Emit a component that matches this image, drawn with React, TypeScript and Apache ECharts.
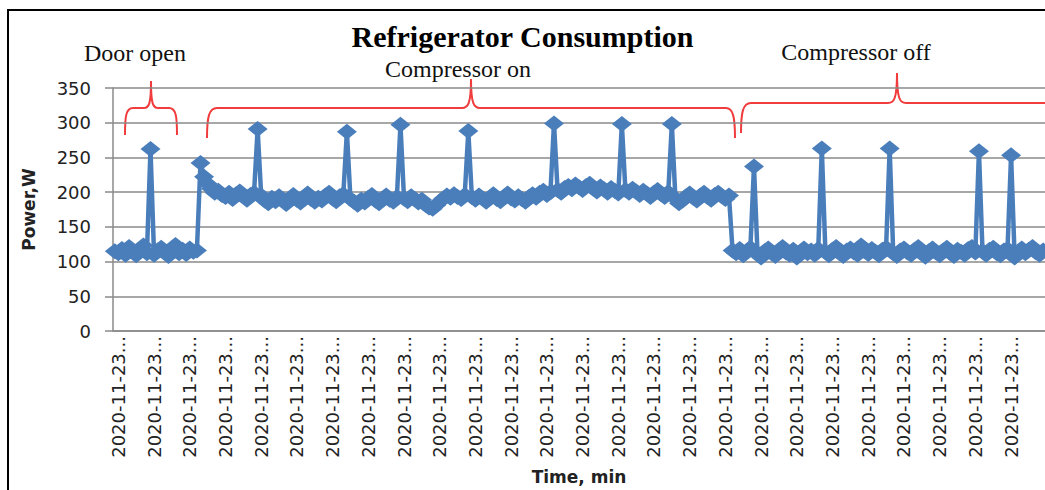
import React, { useEffect, useRef } from "react";
import * as echarts from "echarts";

// Power readings (W), one per minute
const doorOpenW = [
  115, 112, 118, 110, 121, 114, 109, 117, 123, 112, 262, 110, 116, 120, 113, 108,
  118, 124, 112, 117, 111, 119, 114, 116,
];

const compressorOnW = [
  242, 222, 212, 205, 199, 202, 196, 193, 199, 190, 197, 201, 194, 189, 196, 199,
  291, 195, 188, 184, 192, 187, 194, 190, 183, 191, 196, 189, 185, 193, 198, 190,
  186, 192, 188, 195, 199, 191, 187, 194, 197, 287, 190, 186, 182, 189, 185, 192,
  196, 188, 184, 191, 195, 189, 186, 193, 297, 191, 187, 194, 190, 185, 189, 182,
  178, 176, 181, 186, 191, 195, 192, 197, 193, 190, 196, 288, 193, 189, 195, 191,
  186, 192, 197, 190, 187, 193, 198, 191, 188, 194, 190, 186, 193, 197, 192, 199,
  202, 196, 200, 299, 203, 199, 206, 209, 204, 211, 207, 203, 209, 212, 205, 201,
  208, 204, 199, 206, 202, 198, 298, 203, 199, 205, 201, 196, 202, 198, 193, 199,
  203, 197, 193, 200, 298, 191, 184, 188, 194, 198, 192, 188, 195, 199, 193, 189,
  196, 199, 194, 190, 195,
];

const compressorOffW = [
  116, 112, 118, 109, 114, 120, 237, 111, 106, 115, 119, 112, 108, 116, 121, 113,
  110, 117, 106, 114, 119, 112, 116, 110, 118, 263, 114, 109, 117, 121, 112, 108,
  116, 119, 113, 110, 123, 115, 111, 118, 114, 109, 117, 120, 263, 112, 108, 116,
  119, 113, 110, 117, 121, 112, 107, 115, 119, 113, 109, 116, 120, 112, 108, 117,
  114, 110, 118, 121, 113, 259, 115, 110, 117, 120, 112, 109, 116, 118, 253, 106,
  114, 119, 112, 117, 121, 113, 110, 116,
];

const powerW = [...doorOpenW, ...compressorOnW, ...compressorOffW];

// Category labels: one reading per minute on 2020-11-23
const startMinute = 10 * 60;
const timeCategories = powerW.map((_, i) => {
  const t = startMinute + i;
  const hh = String(Math.floor(t / 60)).padStart(2, "0");
  const mm = String(t % 60).padStart(2, "0");
  return `2020-11-23 ${hh}:${mm}`;
});

const yMin = 0;
const yMax = 350;
const yStep = 50;
const labelEvery = 10;

const chartTitle = "Refrigerator Consumption";
const yName = "Power,W";
const xName = "Time, min";
const phaseNames = ["Door open", "Compressor on", "Compressor off"];

// Curly braces marking the phases (annotation drawing)
const BRACE_DOOR =
  "M125,135 C125,116 126,108 133,108 L144,108 C149,108 151,104 151,81 C151,104 153,108 158,108 L169,108 C176,108 177,116 177,135";
const BRACE_ON =
  "M207,138 C207,117 209,108 217,108 L462,108 C468,108 471,104 471,79 C471,104 474,108 480,108 L726,108 C733,108 735,117 735,138";
const BRACE_OFF =
  "M741,133 C741,112 743,103 751,103 L888,103 C894,103 897,99 897,73 C897,99 900,103 906,103 L1070,103";

export default function App() {
  const ref = useRef<HTMLDivElement>(null);

  useEffect(() => {
    if (!ref.current) return;
    echarts.graphic.registerShape("braceDoor", echarts.graphic.extendPath(BRACE_DOOR, {}));
    echarts.graphic.registerShape("braceOn", echarts.graphic.extendPath(BRACE_ON, {}));
    echarts.graphic.registerShape("braceOff", echarts.graphic.extendPath(BRACE_OFF, {}));

    const chart = echarts.init(ref.current, null, { renderer: "svg" });
    const braceStyle = { stroke: "#f03c3c", lineWidth: 2, fill: "none" };
    const annFont = (size: number) => ({
      fontFamily: "Liberation Serif",
      fontSize: size,
      fill: "#111",
      align: "center",
      verticalAlign: "middle",
      textAlign: "center",
      textVerticalAlign: "middle",
    });

    chart.setOption({
      animation: false,
      backgroundColor: "#ffffff",
      title: {
        text: chartTitle,
        left: "center",
        top: 16,
        textStyle: {
          fontFamily: "Liberation Serif",
          fontWeight: "bold",
          fontSize: 30,
          color: "#000",
        },
      },
      grid: { left: 113, top: 88, right: 0, bottom: 159, containLabel: false },
      xAxis: {
        type: "category",
        data: timeCategories,
        boundaryGap: true,
        name: xName,
        nameLocation: "middle",
        nameGap: 137,
        nameTextStyle: {
          fontFamily: "DejaVu Sans",
          fontWeight: "bold",
          fontSize: 17,
          color: "#222",
        },
        axisLine: { show: true, lineStyle: { color: "#8a8a8a", width: 1.5 } },
        axisTick: { show: false },
        splitLine: { show: false },
        axisLabel: {
          interval: (index: number) => index % labelEvery === 1,
          rotate: 90,
          margin: 5,
          fontFamily: "DejaVu Sans",
          fontSize: 18,
          color: "#222",
          formatter: (v: string) => v.slice(0, 10) + "...",
        },
      },
      yAxis: {
        type: "value",
        min: yMin,
        max: yMax,
        interval: yStep,
        name: yName,
        nameLocation: "middle",
        nameRotate: 90,
        nameGap: 76,
        nameTextStyle: {
          fontFamily: "DejaVu Sans",
          fontWeight: "bold",
          fontSize: 17,
          color: "#222",
        },
        axisLine: { show: true, lineStyle: { color: "#8a8a8a", width: 1.5 } },
        axisTick: { show: true, inside: false, length: 8, lineStyle: { color: "#8a8a8a", width: 1.5 } },
        splitLine: { show: true, lineStyle: { color: "#8a8a8a", width: 1.5 } },
        axisLabel: {
          margin: 22,
          fontFamily: "DejaVu Sans",
          fontSize: 18,
          color: "#222",
        },
      },
      series: [
        {
          type: "line",
          data: powerW,
          symbol: "diamond",
          symbolSize: [20, 16],
          showSymbol: true,
          showAllSymbol: true,
          lineStyle: { color: "#4a7ebb", width: 4.5 },
          itemStyle: { color: "#4a7ebb", borderWidth: 0 },
          emphasis: { disabled: true },
        },
      ],
      graphic: [
        {
          type: "rect",
          silent: true,
          shape: { x: 8, y: 10, width: 1200, height: 700 },
          style: { fill: "none", stroke: "#000", lineWidth: 2 },
        },
        { type: "braceDoor", silent: true, x: 0, y: 0, style: braceStyle },
        { type: "braceOn", silent: true, x: 0, y: 0, style: braceStyle },
        { type: "braceOff", silent: true, x: 0, y: 0, style: braceStyle },
        { type: "text", silent: true, x: 135, y: 53, style: { text: phaseNames[0], ...annFont(24) } },
        { type: "text", silent: true, x: 458, y: 69, style: { text: phaseNames[1], ...annFont(24) } },
        { type: "text", silent: true, x: 856, y: 52, style: { text: phaseNames[2], ...annFont(24) } },
      ],
    });

    return () => chart.dispose();
  }, []);

  return (
    <div
      ref={ref}
      style={{ position: "fixed", left: 0, top: 0, width: 1045, height: 490, background: "#fff" }}
    />
  );
}
